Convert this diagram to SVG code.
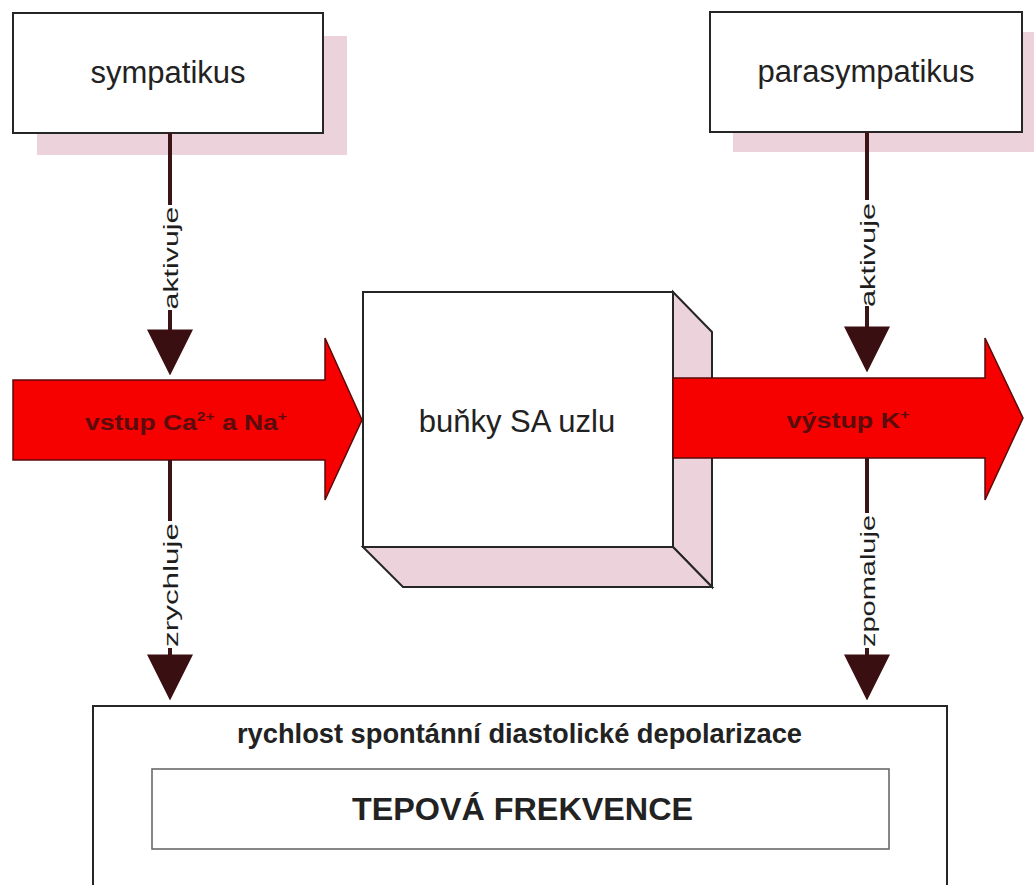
<svg xmlns="http://www.w3.org/2000/svg" width="1034" height="885" viewBox="0 0 1034 885">
<defs>
<style>
.box{fill:#fff;stroke:#262626;stroke-width:2}
.shadow{fill:#ecd2da}
.lbl{font-family:"Liberation Sans",Arial,sans-serif;fill:#222}
.vlbl{font-family:"Liberation Sans",Arial,sans-serif;font-size:21px;fill:#1e1e1e}
.big{font-size:31px;text-anchor:middle}
.redarrow{fill:#f60000;stroke:#5a0a0a;stroke-width:1.5;stroke-linejoin:miter}
.redtxt{font-family:"Liberation Sans",Arial,sans-serif;font-weight:bold;font-size:22px;fill:#5a0c0c;text-anchor:middle}
.conn{fill:none;stroke:#3a1417;stroke-width:4}
.inner{fill:#fff;stroke:#6a6a6a;stroke-width:1.6}
</style>
<marker id="head" markerUnits="userSpaceOnUse" markerWidth="46" markerHeight="46" viewBox="0 0 44 44" refX="34" refY="22" orient="auto">
<path d="M0,0 L44,22 L0,44 z" fill="#3a0f12"/>
</marker>
</defs>
<rect width="1034" height="885" fill="#fff"/>

<g id="sympatikus">
<rect class="shadow" x="37" y="36" width="310" height="119"/>
<rect class="box" x="13" y="13" width="310" height="120"/>
<text class="lbl big" x="168" y="83">sympatikus</text>
</g>

<g id="parasympatikus">
<rect class="shadow" x="733" y="32" width="320" height="120"/>
<rect class="box" x="710" y="12" width="312" height="120"/>
<text class="lbl big" x="866" y="82">parasympatikus</text>
</g>

<g id="flow-in">
<polygon class="redarrow" points="13,380 325,380 325,338 362,420 325,500 325,460 13,460"/>
<text class="redtxt" x="186" y="430" textLength="202" lengthAdjust="spacingAndGlyphs">vstup Ca<tspan font-size="13" dy="-9">2+</tspan><tspan dy="9"> a Na</tspan><tspan font-size="13" dy="-9">+</tspan></text>
</g>

<g id="sa-uzel">
<polygon class="shadow" points="673,292 712,332 712,587 673,547" stroke="#262626" stroke-width="2"/>
<polygon class="shadow" points="363,547 673,547 712,587 403,587" stroke="#262626" stroke-width="2"/>
<rect class="box" x="363" y="292" width="310" height="255"/>
<text class="lbl big" x="517" y="432">buňky SA uzlu</text>
</g>

<g id="flow-out">
<polygon class="redarrow" points="673,378 985,378 985,338 1023,418 985,500 985,458 673,458"/>
<text class="redtxt" x="848" y="428" textLength="123" lengthAdjust="spacingAndGlyphs">výstup K<tspan font-size="13" dy="-9">+</tspan></text>
</g>

<g id="tepova-frekvence">
<rect class="box" x="93" y="706" width="854" height="200"/>
<text class="lbl" x="519.5" y="743" font-size="27" font-weight="bold" text-anchor="middle" textLength="565" lengthAdjust="spacingAndGlyphs">rychlost spontánní diastolické depolarizace</text>
<rect class="inner" x="152" y="769" width="737" height="80"/>
<text class="lbl" x="522.5" y="820" font-size="32" font-weight="bold" text-anchor="middle" textLength="341" lengthAdjust="spacingAndGlyphs">TEPOVÁ FREKVENCE</text>
</g>

<g id="connectors">
<path class="conn" d="M170,133 V205"/>
<path class="conn" d="M170,310 V365" marker-end="url(#head)"/>
<path class="conn" d="M170,460 V521"/>
<path class="conn" d="M170,648 V690" marker-end="url(#head)"/>
<path class="conn" d="M867,132 V200"/>
<path class="conn" d="M867,306 V362" marker-end="url(#head)"/>
<path class="conn" d="M867,458 V513"/>
<path class="conn" d="M867,648 V690" marker-end="url(#head)"/>
<text class="vlbl" text-anchor="middle" transform="translate(178,258) rotate(-90)" textLength="103" lengthAdjust="spacingAndGlyphs">aktivuje</text>
<text class="vlbl" text-anchor="middle" transform="translate(875,255) rotate(-90)" textLength="104" lengthAdjust="spacingAndGlyphs">aktivuje</text>
<text class="vlbl" text-anchor="middle" transform="translate(178,585) rotate(-90)" textLength="124" lengthAdjust="spacingAndGlyphs">zrychluje</text>
<text class="vlbl" text-anchor="middle" transform="translate(875,581) rotate(-90)" textLength="132" lengthAdjust="spacingAndGlyphs">zpomaluje</text>
</g>
</svg>
